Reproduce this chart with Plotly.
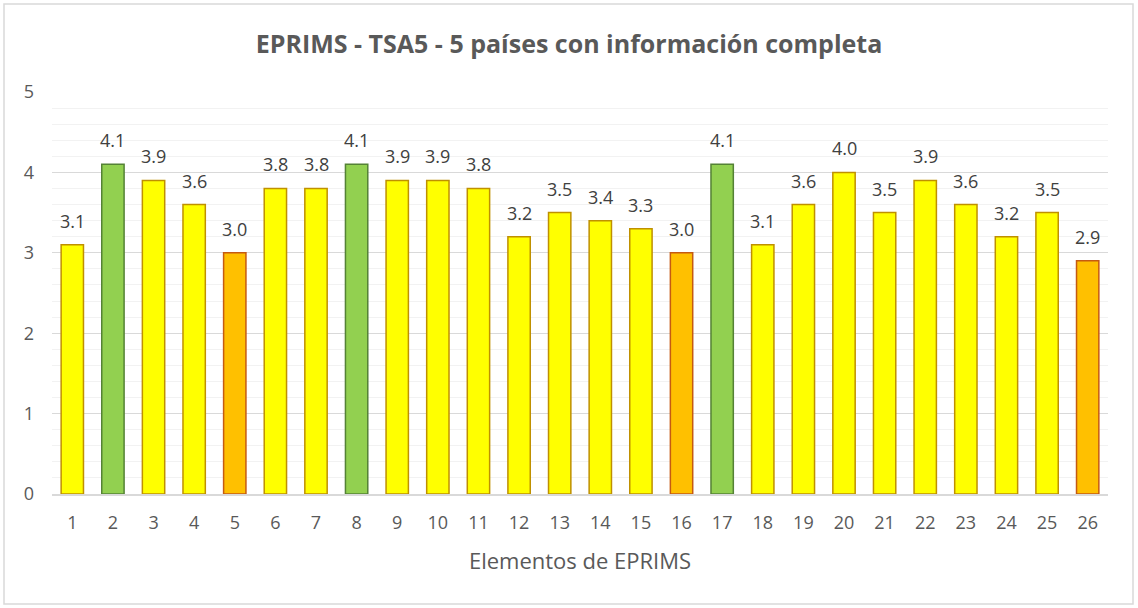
import plotly.graph_objects as go

categories = [str(i) for i in range(1, 27)]
values = [3.1, 4.1, 3.9, 3.6, 3.0, 3.8, 3.8, 4.1, 3.9, 3.9, 3.8, 3.2, 3.5, 3.4,
          3.3, 3.0, 4.1, 3.1, 3.6, 4.0, 3.5, 3.9, 3.6, 3.2, 3.5, 2.9]
groups = ["y", "g", "y", "y", "o", "y", "y", "g", "y", "y", "y", "y", "y", "y",
          "y", "o", "g", "y", "y", "y", "y", "y", "y", "y", "y", "o"]

fill = {"g": "#92D050", "y": "#FFFF00", "o": "#FFC000"}
edge = {"g": "#548235", "y": "#BF9000", "o": "#C55A11"}

FONT = "Open Sans"
W, H = 1138, 608
L, R, T, B = 52, 30, 92, 114
pw, ph = W - L - R, H - T - B

fig = go.Figure(go.Bar(
    x=categories, y=values,
    marker=dict(color=[fill[g] for g in groups],
                line=dict(color=[edge[g] for g in groups], width=1.5)),
    width=0.55,
    hoverinfo="x+y",
))

for i, v in enumerate(values):
    fig.add_annotation(x=i, y=v, text=f"{v:.1f}", showarrow=False,
                       yanchor="bottom", yshift=10,
                       font=dict(size=18, color="#404040", family=FONT))

fig.update_layout(
    width=W, height=H,
    margin=dict(l=L, r=R, t=T, b=B),
    paper_bgcolor="white", plot_bgcolor="white",
    font=dict(family=FONT, color="#595959"),
    title=dict(text="<b>EPRIMS - TSA5 - 5 países con información completa</b>",
               x=0.5, xanchor="center", y=1 - 44 / H, yanchor="middle",
               font=dict(size=25, color="#595959", family=FONT)),
    showlegend=False,
    xaxis=dict(title=dict(text="Elementos de EPRIMS", font=dict(size=22, color="#595959"),
                          standoff=20),
               tickfont=dict(size=18, color="#595959"), showgrid=False,
               showline=True, linecolor="#D9D9D9", linewidth=1.5, ticks="",
               ticklabelstandoff=12),
    yaxis=dict(range=[0, 5], dtick=1, tickfont=dict(size=18, color="#595959"),
               showgrid=True, gridcolor="#D9D9D9", gridwidth=1,
               minor=dict(dtick=0.2, showgrid=True, gridcolor="#F2F2F2", gridwidth=1),
               zeroline=False, ticks="", ticklabelstandoff=17),
    shapes=[dict(type="rect", xref="paper", yref="paper",
                 x0=(4 - L) / pw, x1=(1133 - L) / pw,
                 y0=(H - B - 604) / ph, y1=(H - B - 4) / ph,
                 line=dict(color="#D9D9D9", width=1.5), fillcolor="rgba(0,0,0,0)",
                 layer="below")],
)

fig.write_html("out.html", config={"displayModeBar": False},
               post_script="document.body.style.margin='0';")
